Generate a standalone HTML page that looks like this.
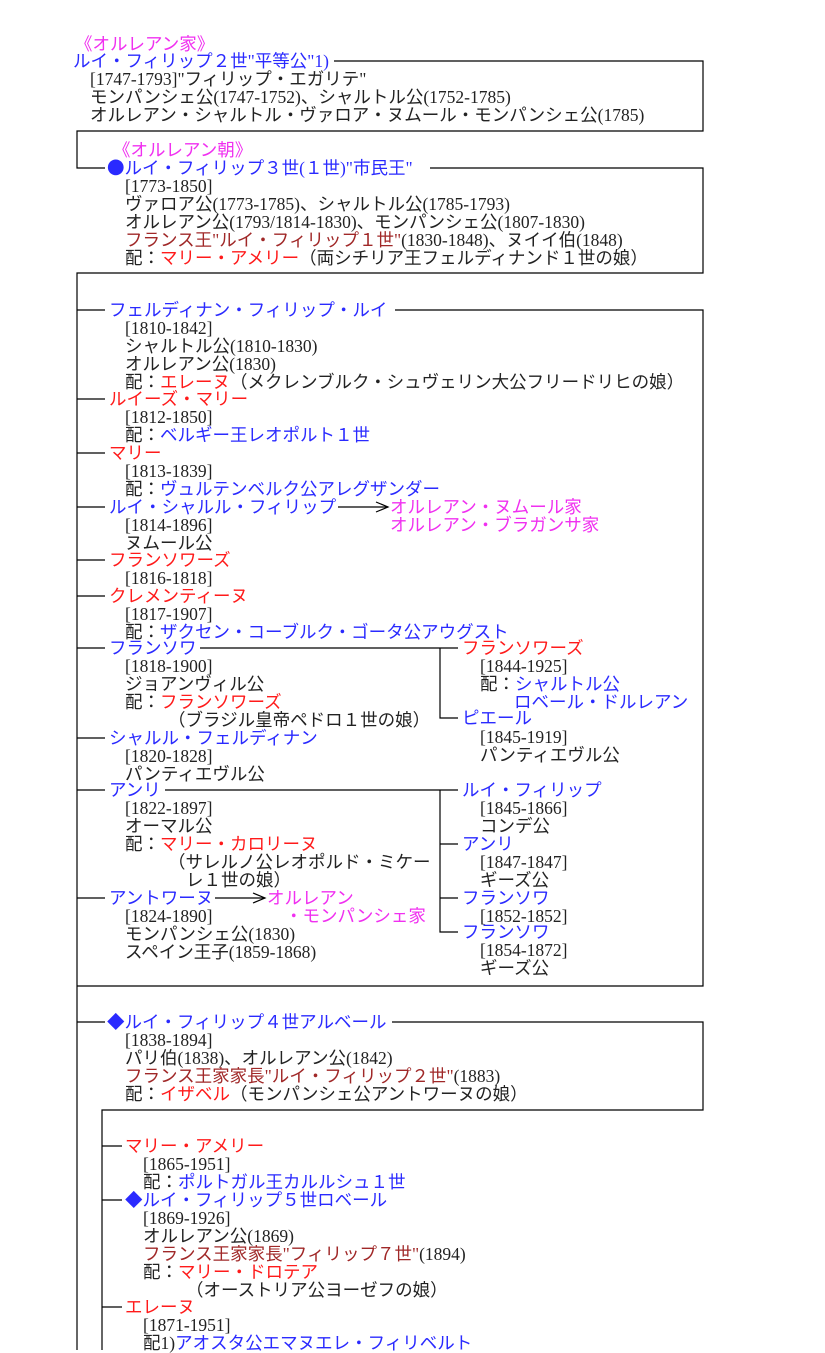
<!DOCTYPE html>
<html><head><meta charset="utf-8"><style>
body{margin:0;background:#fff;width:825px;height:1350px;position:relative;overflow:hidden;font-family:"Liberation Serif","Noto Sans CJK JP",serif;font-size:17.5px;color:#222}
.l{position:absolute;white-space:nowrap;line-height:18px;height:18px}
.b{color:#2a2aff}.r{color:#ff1a1a}.d{color:#a02828}.m{color:#f030f0}
.j{font-family:"Noto Sans CJK JP",sans-serif}
svg{position:absolute;left:0;top:0}
</style></head><body>
<svg width="825" height="1350" stroke="#000" stroke-width="1.2" fill="none">
<polyline points="334,61 703,61 703,131 77,131 77,168 105,168"/>
<polyline points="430,168 703,168 703,273 77,273 77,1350"/>
<line x1="77" y1="310" x2="105" y2="310"/>
<polyline points="395,310 703,310 703,986 77,986"/>
<line x1="77" y1="399" x2="105" y2="399"/>
<line x1="77" y1="453" x2="105" y2="453"/>
<line x1="77" y1="507" x2="105" y2="507"/>
<line x1="338" y1="507" x2="388" y2="507"/><polyline points="376,502 388,507 376,512"/>
<line x1="77" y1="560" x2="105" y2="560"/>
<line x1="77" y1="596" x2="105" y2="596"/>
<line x1="77" y1="648" x2="105" y2="648"/>
<line x1="200" y1="648" x2="458" y2="648"/>
<polyline points="440,648 440,718 458,718"/>
<line x1="77" y1="738" x2="105" y2="738"/>
<line x1="77" y1="790" x2="105" y2="790"/>
<line x1="165" y1="790" x2="458" y2="790"/>
<polyline points="440,790 440,932 458,932"/>
<line x1="440" y1="844" x2="458" y2="844"/>
<line x1="440" y1="898" x2="458" y2="898"/>
<line x1="77" y1="898" x2="105" y2="898"/>
<line x1="215" y1="898" x2="265" y2="898"/><polyline points="253,893 265,898 253,903"/>
<line x1="77" y1="1022" x2="105" y2="1022"/>
<polyline points="392,1022 703,1022 703,1110 102,1110 102,1350"/>
<line x1="102" y1="1146" x2="122" y2="1146"/>
<line x1="102" y1="1200" x2="122" y2="1200"/>
<line x1="102" y1="1307" x2="122" y2="1307"/>
</svg>
<div class="l m" style="left:75px;top:35px">《オルレアン家》</div>
<div class="l b" style="left:73px;top:52px">ルイ・フィリップ２世"平等公"1)</div>
<div class="l" style="left:90px;top:70px">[1747-1793]"フィリップ・エガリテ"</div>
<div class="l" style="left:90px;top:88px">モンパンシェ公(1747-1752)、シャルトル公(1752-1785)</div>
<div class="l" style="left:90px;top:106px">オルレアン・シャルトル・ヴァロア・ヌムール・モンパンシェ公(1785)</div>
<div class="l m" style="left:113px;top:141px">《オルレアン朝》</div>
<div class="l b" style="left:107px;top:159px"><span class="j">●</span>ルイ・フィリップ３世(１世)"市民王"</div>
<div class="l" style="left:125px;top:177px">[1773-1850]</div>
<div class="l" style="left:125px;top:195px">ヴァロア公(1773-1785)、シャルトル公(1785-1793)</div>
<div class="l" style="left:125px;top:213px">オルレアン公(1793/1814-1830)、モンパンシェ公(1807-1830)</div>
<div class="l" style="left:125px;top:231px"><span class="d">フランス王"ルイ・フィリップ１世"</span>(1830-1848)、ヌイイ伯(1848)</div>
<div class="l" style="left:125px;top:249px">配：<span class="r">マリー・アメリー</span>（両シチリア王フェルディナンド１世の娘）</div>

<div class="l b" style="left:109px;top:301px">フェルディナン・フィリップ・ルイ</div>
<div class="l" style="left:125px;top:319px">[1810-1842]</div>
<div class="l" style="left:125px;top:337px">シャルトル公(1810-1830)</div>
<div class="l" style="left:125px;top:355px">オルレアン公(1830)</div>
<div class="l" style="left:125px;top:373px">配：<span class="r">エレーヌ</span>（メクレンブルク・シュヴェリン大公フリードリヒの娘）</div>
<div class="l r" style="left:109px;top:390px">ルイーズ・マリー</div>
<div class="l" style="left:125px;top:408px">[1812-1850]</div>
<div class="l" style="left:125px;top:426px">配：<span class="b">ベルギー王レオポルト１世</span></div>
<div class="l r" style="left:109px;top:444px">マリー</div>
<div class="l" style="left:125px;top:462px">[1813-1839]</div>
<div class="l" style="left:125px;top:480px">配：<span class="b">ヴュルテンベルク公アレグザンダー</span></div>
<div class="l b" style="left:109px;top:498px">ルイ・シャルル・フィリップ</div>
<div class="l m" style="left:390px;top:498px">オルレアン・ヌムール家</div>
<div class="l m" style="left:390px;top:516px">オルレアン・ブラガンサ家</div>
<div class="l" style="left:125px;top:516px">[1814-1896]</div>
<div class="l" style="left:125px;top:534px">ヌムール公</div>
<div class="l r" style="left:109px;top:551px">フランソワーズ</div>
<div class="l" style="left:125px;top:569px">[1816-1818]</div>
<div class="l r" style="left:109px;top:587px">クレメンティーヌ</div>
<div class="l" style="left:125px;top:605px">[1817-1907]</div>
<div class="l" style="left:125px;top:623px">配：<span class="b">ザクセン・コーブルク・ゴータ公アウグスト</span></div>

<div class="l b" style="left:109px;top:639px">フランソワ</div>
<div class="l" style="left:125px;top:657px">[1818-1900]</div>
<div class="l" style="left:125px;top:675px">ジョアンヴィル公</div>
<div class="l" style="left:125px;top:693px">配：<span class="r">フランソワーズ</span></div>
<div class="l" style="left:168px;top:711px">（ブラジル皇帝ペドロ１世の娘）</div>
<div class="l r" style="left:462px;top:639px">フランソワーズ</div>
<div class="l" style="left:480px;top:657px">[1844-1925]</div>
<div class="l" style="left:480px;top:675px">配：<span class="b">シャルトル公</span></div>
<div class="l b" style="left:514px;top:693px">ロベール・ドルレアン</div>
<div class="l b" style="left:462px;top:709px">ピエール</div>
<div class="l" style="left:480px;top:728px">[1845-1919]</div>
<div class="l" style="left:480px;top:746px">パンティエヴル公</div>
<div class="l b" style="left:109px;top:729px">シャルル・フェルディナン</div>
<div class="l" style="left:125px;top:747px">[1820-1828]</div>
<div class="l" style="left:125px;top:765px">パンティエヴル公</div>

<div class="l b" style="left:109px;top:781px">アンリ</div>
<div class="l" style="left:125px;top:799px">[1822-1897]</div>
<div class="l" style="left:125px;top:817px">オーマル公</div>
<div class="l" style="left:125px;top:835px">配：<span class="r">マリー・カロリーヌ</span></div>
<div class="l" style="left:168px;top:853px">（サレルノ公レオポルド・ミケー</div>
<div class="l" style="left:186px;top:871px">レ１世の娘）</div>
<div class="l b" style="left:109px;top:889px">アントワーヌ</div>
<div class="l m" style="left:267px;top:889px">オルレアン</div>
<div class="l m" style="left:285px;top:907px">・モンパンシェ家</div>
<div class="l" style="left:125px;top:907px">[1824-1890]</div>
<div class="l" style="left:125px;top:925px">モンパンシェ公(1830)</div>
<div class="l" style="left:125px;top:943px">スペイン王子(1859-1868)</div>
<div class="l b" style="left:462px;top:781px">ルイ・フィリップ</div>
<div class="l" style="left:480px;top:799px">[1845-1866]</div>
<div class="l" style="left:480px;top:817px">コンデ公</div>
<div class="l b" style="left:462px;top:835px">アンリ</div>
<div class="l" style="left:480px;top:853px">[1847-1847]</div>
<div class="l" style="left:480px;top:871px">ギーズ公</div>
<div class="l b" style="left:462px;top:889px">フランソワ</div>
<div class="l" style="left:480px;top:907px">[1852-1852]</div>
<div class="l b" style="left:462px;top:923px">フランソワ</div>
<div class="l" style="left:480px;top:941px">[1854-1872]</div>
<div class="l" style="left:480px;top:959px">ギーズ公</div>

<div class="l b" style="left:107px;top:1013px"><span class="j">◆</span>ルイ・フィリップ４世アルベール</div>
<div class="l" style="left:125px;top:1031px">[1838-1894]</div>
<div class="l" style="left:125px;top:1049px">パリ伯(1838)、オルレアン公(1842)</div>
<div class="l" style="left:125px;top:1067px"><span class="d">フランス王家家長"ルイ・フィリップ２世"</span>(1883)</div>
<div class="l" style="left:125px;top:1085px">配：<span class="r">イザベル</span>（モンパンシェ公アントワーヌの娘）</div>
<div class="l r" style="left:125px;top:1137px">マリー・アメリー</div>
<div class="l" style="left:143px;top:1155px">[1865-1951]</div>
<div class="l" style="left:143px;top:1173px">配：<span class="b">ポルトガル王カルルシュ１世</span></div>
<div class="l b" style="left:125px;top:1191px"><span class="j">◆</span>ルイ・フィリップ５世ロベール</div>
<div class="l" style="left:143px;top:1209px">[1869-1926]</div>
<div class="l" style="left:143px;top:1227px">オルレアン公(1869)</div>
<div class="l d" style="left:143px;top:1245px">フランス王家家長"フィリップ７世"<span style="color:#222">(1894)</span></div>
<div class="l" style="left:143px;top:1263px">配：<span class="r">マリー・ドロテア</span></div>
<div class="l" style="left:186px;top:1281px">（オーストリア公ヨーゼフの娘）</div>
<div class="l r" style="left:125px;top:1298px">エレーヌ</div>
<div class="l" style="left:143px;top:1316px">[1871-1951]</div>
<div class="l" style="left:143px;top:1334px">配1)<span class="b">アオスタ公エマヌエレ・フィリベルト</span></div>
</body></html>
